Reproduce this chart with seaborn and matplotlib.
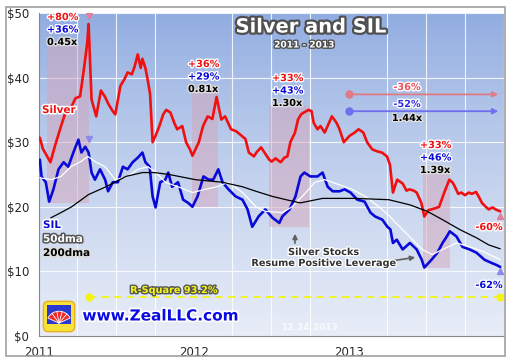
import matplotlib
matplotlib.use("Agg")
import matplotlib.pyplot as plt
import matplotlib.dates as mdates
import matplotlib.patheffects as pe
from matplotlib.patches import Rectangle, FancyBboxPatch, Wedge
from matplotlib.ticker import MultipleLocator, FuncFormatter, FixedLocator
import seaborn as sns
import numpy as np
import pandas as pd

# silver price
silver_dates = ["2011-01-03", "2011-01-10", "2011-01-28", "2011-02-08", "2011-02-22", "2011-03-04",
                "2011-03-15", "2011-03-28", "2011-04-08", "2011-04-18", "2011-04-25", "2011-04-28",
                "2011-05-05", "2011-05-16", "2011-05-27", "2011-06-06", "2011-06-13", "2011-06-24",
                "2011-06-30", "2011-07-12", "2011-07-22", "2011-07-29", "2011-08-08", "2011-08-15",
                "2011-08-22", "2011-08-29", "2011-09-02", "2011-09-09", "2011-09-14", "2011-09-20",
                "2011-09-26", "2011-10-03", "2011-10-12", "2011-10-21", "2011-10-28", "2011-11-07",
                "2011-11-16", "2011-11-23", "2011-12-05", "2011-12-14", "2011-12-23", "2011-12-29",
                "2012-01-13", "2012-01-23", "2012-02-03", "2012-02-14", "2012-02-24", "2012-03-06",
                "2012-03-15", "2012-03-29", "2012-04-10", "2012-04-23", "2012-05-02", "2012-05-10",
                "2012-05-22", "2012-05-29", "2012-06-08", "2012-06-18", "2012-06-27", "2012-07-03",
                "2012-07-12", "2012-07-24", "2012-08-02", "2012-08-09", "2012-08-16", "2012-08-27",
                "2012-09-03", "2012-09-10", "2012-09-17", "2012-09-28", "2012-10-05", "2012-10-10",
                "2012-10-19", "2012-10-26", "2012-11-05", "2012-11-22", "2012-12-03", "2012-12-10",
                "2012-12-20", "2012-12-27", "2013-01-03", "2013-01-15", "2013-01-24", "2013-02-04",
                "2013-02-13", "2013-02-25", "2013-03-08", "2013-03-20", "2013-04-01", "2013-04-08",
                "2013-04-15", "2013-04-25", "2013-05-08", "2013-05-17", "2013-05-24", "2013-06-03",
                "2013-06-10", "2013-06-21", "2013-06-28", "2013-07-08", "2013-07-15", "2013-07-25",
                "2013-08-02", "2013-08-14", "2013-08-26", "2013-09-02", "2013-09-06", "2013-09-16",
                "2013-09-23", "2013-10-02", "2013-10-11", "2013-10-18", "2013-10-28", "2013-11-04",
                "2013-11-11", "2013-11-20", "2013-11-27", "2013-12-06", "2013-12-13", "2013-12-24"]
silver_prices = [30.7, 29.0, 26.9, 29.5, 32.5, 34.5,
                 35.0, 36.8, 37.1, 41.8, 45.5, 48.3,
                 36.6, 34.0, 38.0, 37.0, 36.0, 34.8,
                 34.3, 38.7, 39.8, 40.8, 40.5, 41.8,
                 43.6, 41.5, 42.9, 41.5, 39.8, 37.5,
                 30.0, 31.0, 32.5, 34.3, 35.0, 34.6,
                 33.0, 32.0, 32.5, 30.0, 28.9, 27.9,
                 30.0, 32.5, 34.0, 33.6, 37.0, 33.5,
                 34.0, 32.0, 31.7, 31.0, 30.5, 28.4,
                 27.8, 28.5, 29.2, 28.2, 27.3, 27.0,
                 27.5, 26.9, 27.6, 27.8, 30.0, 31.5,
                 33.5, 34.3, 34.6, 35.0, 34.8, 33.0,
                 32.0, 32.5, 31.5, 34.0, 33.0, 32.0,
                 30.0, 30.5, 31.0, 31.5, 32.0, 31.5,
                 30.0, 28.9, 28.6, 28.4, 27.8, 26.5,
                 22.2, 24.2, 23.6, 22.5, 22.7, 22.5,
                 22.2, 20.6, 18.5, 19.5, 19.6, 19.8,
                 20.0, 22.2, 24.2, 23.8, 23.4, 22.0,
                 22.2, 21.8, 22.2, 22.0, 22.3, 21.5,
                 20.6, 20.0, 19.6, 19.9, 19.6, 19.3]

# SIL silver stocks ETF
sil_dates = ["2011-01-03", "2011-01-07", "2011-01-17", "2011-01-25", "2011-02-04", "2011-02-16",
             "2011-02-28", "2011-03-11", "2011-03-23", "2011-04-04", "2011-04-11", "2011-04-20",
             "2011-04-28", "2011-05-05", "2011-05-13", "2011-05-25", "2011-06-06", "2011-06-13",
             "2011-06-24", "2011-07-06", "2011-07-18", "2011-07-29", "2011-08-10", "2011-08-22",
             "2011-09-02", "2011-09-09", "2011-09-19", "2011-09-26", "2011-10-03", "2011-10-14",
             "2011-10-26", "2011-11-02", "2011-11-11", "2011-11-25", "2011-12-07", "2011-12-19",
             "2011-12-29", "2012-01-10", "2012-01-24", "2012-02-05", "2012-02-16", "2012-02-28",
             "2012-03-09", "2012-03-23", "2012-04-09", "2012-04-25", "2012-05-07", "2012-05-18",
             "2012-06-02", "2012-06-18", "2012-07-05", "2012-07-21", "2012-07-28", "2012-08-14",
             "2012-08-28", "2012-09-09", "2012-09-18", "2012-10-02", "2012-10-19", "2012-10-31",
             "2012-11-12", "2012-11-24", "2012-12-10", "2012-12-22", "2013-01-05", "2013-01-21",
             "2013-02-07", "2013-02-21", "2013-03-04", "2013-03-21", "2013-04-02", "2013-04-09",
             "2013-04-15", "2013-04-24", "2013-05-08", "2013-05-25", "2013-06-10", "2013-06-22",
             "2013-06-28", "2013-07-15", "2013-07-29", "2013-08-10", "2013-08-20", "2013-08-27",
             "2013-09-12", "2013-09-26", "2013-10-13", "2013-10-29", "2013-11-17", "2013-12-04",
             "2013-12-15", "2013-12-24"]
sil_prices = [27.3, 24.7, 23.8, 20.8, 22.7, 25.8,
              26.9, 26.2, 28.4, 30.4, 28.4, 29.3,
              28.4, 25.3, 24.2, 25.8, 24.2, 22.4,
              23.8, 23.8, 26.2, 25.8, 26.9, 27.6,
              28.4, 26.9, 26.2, 21.6, 19.9, 23.8,
              24.2, 25.3, 23.1, 23.8, 21.1, 20.6,
              20.0, 21.6, 24.7, 24.2, 24.2, 25.8,
              23.8, 22.7, 21.6, 21.1, 19.6, 16.9,
              18.5, 19.6, 18.3, 17.5, 18.5, 19.6,
              21.6, 24.7, 25.3, 24.7, 24.7, 25.3,
              23.1, 22.4, 22.4, 22.7, 22.2, 21.1,
              20.8, 19.1, 18.5, 18.0, 16.9, 16.5,
              14.4, 14.9, 13.4, 14.4, 13.4, 11.8,
              10.6, 11.8, 12.9, 14.4, 15.4, 16.2,
              15.4, 13.8, 13.4, 12.9, 11.8, 11.3,
              11.0, 10.7]

# SIL 50-day moving average
dma50_dates = ["2011-01-03", "2011-01-29", "2011-02-22", "2011-03-17", "2011-04-10", "2011-04-26",
               "2011-05-13", "2011-06-06", "2011-06-30", "2011-07-29", "2011-08-22", "2011-09-15",
               "2011-10-04", "2011-10-26", "2011-11-25", "2011-12-29", "2012-01-28", "2012-02-25",
               "2012-03-23", "2012-04-25", "2012-05-27", "2012-06-18", "2012-07-28", "2012-08-20",
               "2012-09-13", "2012-10-13", "2012-11-05", "2012-12-10", "2013-01-09", "2013-02-09",
               "2013-03-13", "2013-04-08", "2013-04-22", "2013-05-24", "2013-06-23", "2013-07-17",
               "2013-08-10", "2013-09-12", "2013-10-13", "2013-11-13", "2013-12-15", "2013-12-24"]
dma50_values = [24.5, 24.2, 24.7, 26.2, 27.0, 27.8,
                27.0, 26.2, 24.2, 24.7, 25.8, 26.2,
                25.3, 23.8, 23.1, 22.2, 22.7, 23.1,
                23.8, 22.2, 20.0, 19.3, 19.1, 20.0,
                21.6, 23.8, 24.2, 23.4, 22.7, 21.6,
                20.0, 18.5, 17.5, 15.4, 13.4, 12.6,
                13.4, 14.4, 13.8, 13.1, 12.1, 11.8]

# SIL 200-day moving average
dma200_dates = ["2011-01-29", "2011-02-19", "2011-03-19", "2011-04-28", "2011-06-08", "2011-07-25",
                "2011-09-02", "2011-09-30", "2011-11-04", "2012-01-05", "2012-03-09", "2012-04-25",
                "2012-05-27", "2012-07-05", "2012-08-06", "2012-09-08", "2012-10-31", "2013-01-15",
                "2013-04-05", "2013-05-25", "2013-07-05", "2013-08-10", "2013-09-19", "2013-10-29",
                "2013-11-27", "2013-12-24"]
dma200_values = [18.3, 19.0, 20.0, 21.9, 23.1, 24.7,
                 25.3, 25.3, 25.0, 24.2, 23.8, 23.1,
                 22.4, 21.6, 21.1, 20.6, 21.3, 21.3,
                 21.1, 20.3, 19.3, 18.0, 16.5, 15.2,
                 14.1, 13.5]

# rally windows: start, end, low, high and the gains
window_start = ["2011-01-20", "2011-12-29", "2012-06-27", "2013-06-24"]
window_end = ["2011-04-28", "2012-02-28", "2012-09-28", "2013-08-28"]
window_low = [20.6, 20.0, 16.9, 10.6]
window_high = [44.9, 37.7, 35.6, 25.3]
silver_gain = ["+80%", "+36%", "+33%", "+33%"]
sil_gain = ["+36%", "+29%", "+43%", "+46%"]
leverage = ["0.45x", "0.81x", "1.30x", "1.39x"]

# decline since early 2013
decline_start = "2013-01-01"
decline_end = "2013-12-26"
decline_silver = 37.4
decline_sil = 34.8
decline_labels = ["-36%", "-52%", "1.44x"]
rsquare = 6.1

W, H = 511, 364
RED = "#f01010"
BLUE = "#0a0ad8"


def fpx(x, y):
    return x / W, 1 - y / H


def outline(c="white", w=2.2):
    return [pe.withStroke(linewidth=w, foreground=c)]


sns.set_style("white")
plt.rcParams["font.family"] = ["DejaVu Sans"]

fig = plt.figure(figsize=(W / 100, H / 100), dpi=100)
ax = fig.add_axes([39 / W, 1 - 336 / H, 465 / W, 323 / H])

x0 = pd.Timestamp("2011-01-01")
x1 = pd.Timestamp("2014-01-02")
n0, n1 = mdates.date2num(x0), mdates.date2num(x1)

# background gradient, darker blue at the top
grad = np.linspace(0, 1, 256).reshape(-1, 1)
top = np.array([0.56, 0.67, 0.88])
bot = np.array([0.91, 0.93, 0.97])
img = top + (bot - top) * grad[:, :, None] ** 0.8
ax.imshow(img, extent=[n0, n1, 0, 50], origin="upper", aspect="auto", zorder=0)

for s, e, lo, hi in zip(window_start, window_end, window_low, window_high):
    s_n = mdates.date2num(pd.Timestamp(s))
    e_n = mdates.date2num(pd.Timestamp(e))
    ax.add_patch(Rectangle((s_n, lo), e_n - s_n, hi - lo, color="#d4a6ba", alpha=0.5, lw=0, zorder=1))

silver = pd.DataFrame({"date": pd.to_datetime(silver_dates), "price": silver_prices})
sil = pd.DataFrame({"date": pd.to_datetime(sil_dates), "price": sil_prices})
d50 = pd.DataFrame({"date": pd.to_datetime(dma50_dates), "price": dma50_values})
d200 = pd.DataFrame({"date": pd.to_datetime(dma200_dates), "price": dma200_values})

sns.lineplot(data=silver, x="date", y="price", color=RED, lw=1.9, ax=ax, zorder=3)
sns.lineplot(data=sil, x="date", y="price", color=BLUE, lw=1.9, ax=ax, zorder=3)
sns.lineplot(data=d50, x="date", y="price", color="white", lw=0.9, ax=ax, zorder=4)
sns.lineplot(data=d200, x="date", y="price", color="black", lw=0.9, ax=ax, zorder=4)

# peak and end markers
peak = pd.Timestamp("2011-04-28")
end = pd.Timestamp("2013-12-24")
ax.plot([peak], [49.6], marker="v", ms=4, color="#e0809a", zorder=5)
ax.plot([peak], [30.5], marker="v", ms=4, color="#8a8ae8", zorder=5)
ax.plot([end], [18.6], marker="^", ms=4, color="#e0809a", zorder=5)
ax.plot([end], [10.0], marker="^", ms=4, color="#8a8ae8", zorder=5)

# decline arrows
ds, de = pd.Timestamp(decline_start), pd.Timestamp(decline_end)
for yv, c in [(decline_silver, "#e07a86"), (decline_sil, "#6f6ff0")]:
    ax.annotate("", xy=(de, yv), xytext=(ds, yv),
                arrowprops=dict(arrowstyle="-|>", color=c, lw=1.3, mutation_scale=8), zorder=5)
    ax.plot([ds], [yv], "o", color=c, ms=5, zorder=5)

# yellow r-square line
ax.plot([pd.Timestamp("2011-04-30"), end], [rsquare, rsquare], ls=(0, (4, 3)), color="#f4f414", lw=1.3, zorder=5)
ax.plot([pd.Timestamp("2011-04-30")], [rsquare], "o", color="#f4f414", ms=5, zorder=5)
ax.plot([end], [rsquare], "s", color="#f4f414", ms=4, zorder=5)

ax.set_xlim(x0, x1)
ax.set_ylim(0, 50)
ax.set_xlabel("")
ax.set_ylabel("")
ax.set_axisbelow(True)
ax.yaxis.set_major_locator(MultipleLocator(10))
ax.yaxis.set_minor_locator(MultipleLocator(2.5))
ax.yaxis.set_major_formatter(FuncFormatter(lambda v, p: f"${v:.0f}"))
year_ticks = [mdates.date2num(pd.Timestamp(f"{y}-01-01")) for y in (2011, 2012, 2013)]
ax.xaxis.set_major_locator(FixedLocator(year_ticks))
ax.xaxis.set_major_formatter(mdates.DateFormatter("%Y"))
ax.xaxis.set_minor_locator(mdates.MonthLocator(bymonth=[1, 4, 7, 10]))
ax.tick_params(axis="y", which="major", length=5, width=0.8, color="#555555", labelsize=8.5, pad=2)
ax.tick_params(axis="y", which="minor", length=3, width=0.6, color="#777777")
ax.tick_params(axis="x", which="major", direction="inout", length=7, width=0.8, color="#555555", labelsize=8.5, pad=4)
ax.tick_params(axis="x", which="minor", length=0)
ax.grid(True, which="major", axis="y", color="white", lw=0.8, alpha=0.85)
ax.grid(True, which="minor", axis="x", color="white", lw=0.8, alpha=0.85)
for side in ["top", "right"]:
    ax.spines[side].set_visible(False)
for side in ["left", "bottom"]:
    ax.spines[side].set_color("#888888")
    ax.spines[side].set_linewidth(0.8)

# outer frame
fig.patches.append(Rectangle(fpx(6, 356), 499 / W, 349 / H, transform=fig.transFigure,
                             fill=False, edgecolor="#a0a0a0", lw=1.2))

# title
fig.text(*fpx(311, 27), "Silver and SIL", ha="center", va="center", fontsize=14, fontweight="bold",
         color="white", path_effects=outline("#505050", 3.2))
fig.text(*fpx(304, 45), "2011 - 2013", ha="center", va="center", fontsize=6.5, fontweight="bold",
         color="white", path_effects=outline("#505050", 2))

# window labels
lab_px = [(47, 17), (188, 64), (272, 78), (420, 145)]
for (lx, ly), a, b, c in zip(lab_px, silver_gain, sil_gain, leverage):
    fig.text(*fpx(lx, ly), a, ha="left", va="center", fontsize=7, fontweight="bold", color=RED,
             path_effects=outline("white", 2))
    fig.text(*fpx(lx, ly + 12.5), b, ha="left", va="center", fontsize=7, fontweight="bold", color=BLUE,
             path_effects=outline("white", 2))
    fig.text(*fpx(lx, ly + 25), c, ha="left", va="center", fontsize=7, fontweight="bold", color="black",
             path_effects=outline("#dddddd", 2))

fig.text(*fpx(407, 87), decline_labels[0], ha="center", va="center", fontsize=7, fontweight="bold",
         color="#e8505a", path_effects=outline("white", 2))
fig.text(*fpx(407, 104), decline_labels[1], ha="center", va="center", fontsize=7, fontweight="bold",
         color="#3030e0", path_effects=outline("white", 2))
fig.text(*fpx(407, 118), decline_labels[2], ha="center", va="center", fontsize=7, fontweight="bold",
         color="black", path_effects=outline("#dddddd", 2))

fig.text(*fpx(489, 227), "-60%", ha="center", va="center", fontsize=7, fontweight="bold", color=RED,
         path_effects=outline("white", 2))
fig.text(*fpx(489, 285), "-62%", ha="center", va="center", fontsize=7, fontweight="bold", color=BLUE,
         path_effects=outline("white", 2))

# series labels
fig.text(*fpx(42, 110), "Silver", ha="left", va="center", fontsize=7.5, fontweight="bold", color=RED,
         path_effects=outline("white", 2.2))
fig.text(*fpx(43, 225), "SIL", ha="left", va="center", fontsize=7.5, fontweight="bold", color=BLUE,
         path_effects=outline("white", 2.2))
fig.text(*fpx(43, 239), "50dma", ha="left", va="center", fontsize=7.5, fontweight="bold", color="white",
         path_effects=outline("#555555", 2.2))
fig.text(*fpx(43, 253), "200dma", ha="left", va="center", fontsize=7.5, fontweight="bold", color="black",
         path_effects=outline("#dddddd", 2.2))

# callout
fig.text(*fpx(324, 252), "Silver Stocks", ha="center", va="center", fontsize=7, fontweight="bold",
         color="#333333", path_effects=outline("white", 2))
fig.text(*fpx(324, 263), "Resume Positive Leverage", ha="center", va="center", fontsize=7,
         fontweight="bold", color="#333333", path_effects=outline("white", 2))
ax.annotate("", xy=fpx(295, 231), xytext=fpx(295, 246), xycoords="figure fraction",
            textcoords="figure fraction",
            arrowprops=dict(arrowstyle="-|>", color="#606060", lw=1.2, mutation_scale=7))
ax.annotate("", xy=fpx(418, 257), xytext=fpx(384, 262), xycoords="figure fraction",
            textcoords="figure fraction",
            arrowprops=dict(arrowstyle="-|>", color="#606060", lw=1.2, mutation_scale=7))

fig.text(*fpx(174, 290), "R-Square 93.2%", ha="center", va="center", fontsize=7, fontweight="bold",
         color="#f4f414", path_effects=outline("#555555", 2))

fig.text(*fpx(160, 316), "www.ZealLLC.com", ha="center", va="center", fontsize=11, fontweight="bold",
         color="#0a0ae6", path_effects=outline("white", 2.5))
fig.text(*fpx(309, 328), "12.24.2013", ha="center", va="center", fontsize=6.5, fontweight="bold",
         color="white", alpha=0.75)

# logo
lg = fig.add_axes([42 / W, 1 - 333 / H, 34 / W, 33 / H])
lg.set_xlim(0, 1)
lg.set_ylim(0, 1)
lg.axis("off")
lg.add_patch(FancyBboxPatch((0.04, 0.04), 0.92, 0.92, boxstyle="round,pad=0,rounding_size=0.15",
                            fc="#f6e23a", ec="#e8b020", lw=1))
lg.add_patch(Rectangle((0.14, 0.14), 0.72, 0.72, fc="#2a3ad0", ec="none"))
lg.add_patch(Wedge((0.5, 0.3), 0.36, 25, 155, fc="#ee2a2a", ec="white", lw=0.6))
for ang in [50, 75, 100, 125]:
    lg.plot([0.5, 0.5 + 0.36 * np.cos(np.radians(ang))], [0.3, 0.3 + 0.36 * np.sin(np.radians(ang))],
            color="white", lw=0.6)
lg.add_patch(Rectangle((0.14, 0.14), 0.72, 0.12, fc="#f6e23a", ec="none"))

fig.savefig("out.png", dpi=100, facecolor="white")
